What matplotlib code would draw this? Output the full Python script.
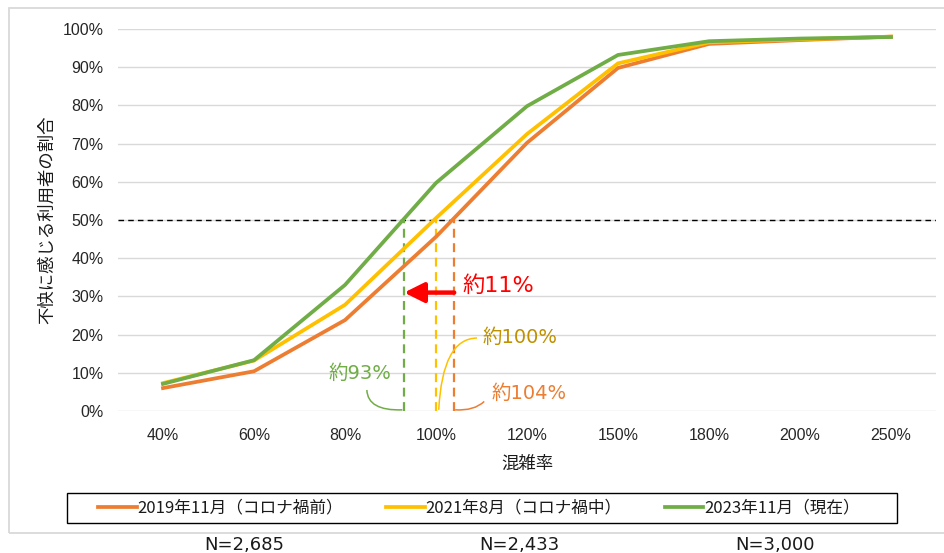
import numpy as np
import matplotlib
matplotlib.use("Agg")
import matplotlib.pyplot as plt
from matplotlib.patches import Rectangle, PathPatch
from matplotlib.path import Path

plt.rcParams['font.family'] = ['Noto Sans CJK JP', 'DejaVu Sans']

# Congestion rate categories (%) and share of passengers feeling discomfort
categories = [40, 60, 80, 100, 120, 150, 180, 200, 250]
tick_labels = ["40%", "60%", "80%", "100%", "120%", "150%", "180%", "200%", "250%"]
series_names = ["2019年11月（コロナ禍前）", "2021年8月（コロナ禍中）", "2023年11月（現在）"]
share_2019 = [0.060, 0.104, 0.238, 0.456, 0.702, 0.898, 0.961, 0.971, 0.980]
share_2021 = [0.073, 0.132, 0.278, 0.505, 0.725, 0.910, 0.965, 0.973, 0.980]
share_2023 = [0.071, 0.133, 0.330, 0.597, 0.798, 0.932, 0.968, 0.975, 0.979]
sample_sizes = ["N=2,685", "N=2,433", "N=3,000"]

# Congestion rate at which half of passengers feel discomfort
half_point_2019 = 104
half_point_2021 = 100
half_point_2023 = 93

colors = ["#ED7D31", "#FFC000", "#70AD47"]
label_yellow = "#BF9000"
latin_first = ['DejaVu Sans', 'Noto Sans CJK JP']

W, H = 944, 553
fig = plt.figure(figsize=(W / 100, H / 100), dpi=100)

# outer chart-area border
fig.patches.append(Rectangle((9 / W, 1 - 533 / H), 1.2, (533 - 8) / H,
                             transform=fig.transFigure, fill=False,
                             edgecolor="#D9D9D9", linewidth=1.3))

ax = fig.add_axes([117.5 / W, 1 - 411 / H, 819 / W, 382 / H])
idx = np.arange(len(categories))


def cat_pos(v):
    return np.interp(v, categories, idx)


ax.set_xlim(-0.5, len(categories) - 0.5)
ax.set_ylim(0, 1.0)
yt = np.arange(0, 1.01, 0.1)
ax.set_yticks(yt)
ax.set_yticklabels([f"{int(round(t * 100))}%" for t in yt])
ax.set_xticks(idx)
ax.set_xticklabels(tick_labels)
for lab in ax.get_xticklabels() + ax.get_yticklabels():
    lab.set_fontfamily(['Liberation Sans', 'DejaVu Sans'])
    lab.set_fontsize(11.5)
    lab.set_color("#262626")
ax.tick_params(axis="both", length=0)
ax.tick_params(axis="y", pad=10)
ax.tick_params(axis="x", pad=12)
for s in ax.spines.values():
    s.set_visible(False)
ax.grid(axis="y", color="#D9D9D9", linewidth=1.0)
ax.set_axisbelow(True)

# 50% reference line
ax.axhline(0.5, color="black", linewidth=1.0, linestyle=(0, (4, 3)), zorder=2)

lines = []
for vals, c, name in zip([share_2019, share_2021, share_2023], colors, series_names):
    ln, = ax.plot(idx, vals, color=c, linewidth=2.7, label=name, zorder=4,
                  solid_joinstyle="miter", clip_on=False)
    lines.append(ln)

# vertical markers at the 50% crossing points
for v, c in zip([half_point_2019, half_point_2021, half_point_2023], colors):
    ax.plot([cat_pos(v), cat_pos(v)], [0, 0.5], color=c, linewidth=1.6,
            linestyle=(0, (4, 2.5)), zorder=3)

# shift arrow from the 2019 crossing to the 2023 crossing
ax.annotate("", xy=(cat_pos(half_point_2023), 0.31),
            xytext=(cat_pos(half_point_2019), 0.31),
            arrowprops=dict(arrowstyle="-|>,head_length=1.2,head_width=0.6",
                            color="#FF0000", linewidth=3.2, shrinkA=0, shrinkB=0),
            zorder=6)
ax.text(3.285, 0.328, f"約{half_point_2019 - half_point_2023}%", color="#FF0000",
        fontsize=16, ha="left", va="center", family=latin_first)

# callout labels with curved leaders
ax.text(2.165, 0.099, f"約{half_point_2023}%", color=colors[2], fontsize=14,
        ha="center", va="center", family=latin_first)
ax.text(3.51, 0.192, f"約{half_point_2021}%", color=label_yellow, fontsize=14,
        ha="left", va="center", family=latin_first)
ax.text(3.61, 0.047, f"約{half_point_2019}%", color=colors[0], fontsize=14,
        ha="left", va="center", family=latin_first)


def leader(p0, p1, ctrl, color):
    path = Path([p0, ctrl, p1], [Path.MOVETO, Path.CURVE3, Path.CURVE3])
    ax.add_patch(PathPatch(path, facecolor="none", edgecolor=color,
                           linewidth=1.1, zorder=5))


x23 = cat_pos(half_point_2023)
x21 = cat_pos(half_point_2021)
x19 = cat_pos(half_point_2019)
leader((2.24, 0.055), (x23 - 0.02, 0.003), (2.25, 0.0), colors[2])
leader((3.45, 0.191), (x21 + 0.03, 0.003), (3.07, 0.19), colors[1])
leader((3.53, 0.025), (x19 + 0.01, 0.003), (3.42, 0.0), colors[0])

ax.set_xlabel("混雑率", fontsize=12.5, labelpad=9, color="#1a1a1a")
ax.set_ylabel("不快に感じる利用者の割合", fontsize=12.5, labelpad=5, color="#1a1a1a")

# legend with framed box below the chart
fig.patches.append(Rectangle((67 / W, 1 - 523 / H), (897 - 67) / W, 30 / H,
                             transform=fig.transFigure, fill=True,
                             facecolor="white", edgecolor="black", linewidth=1.0))
leg = fig.legend(handles=lines, loc="center", bbox_to_anchor=(479 / W, 1 - 508 / H),
                 ncol=3, frameon=False, fontsize=12, handlelength=2.3,
                 handletextpad=0.05, columnspacing=2.6)
for t in leg.get_texts():
    t.set_color("#1a1a1a")

for txt, xc in zip(sample_sizes, [244, 519, 775]):
    fig.text(xc / W, 1 - 545 / H, txt, fontsize=13, ha="center", va="center",
             color="#1a1a1a", family=latin_first)

fig.savefig("out.png", dpi=100)
